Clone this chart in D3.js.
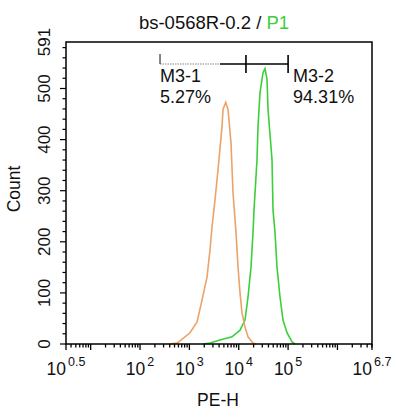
<!DOCTYPE html>
<html>
<head>
<meta charset="utf-8">
<script src="https://cdn.jsdelivr.net/npm/d3@7"></script>
<style>
  html, body { margin: 0; padding: 0; background: #fff; }
  svg { display: block; font-family: "Liberation Sans", Arial, sans-serif; }
</style>
</head>
<body>
<svg id="chart" width="400" height="419"></svg>
<script>
// ---- data ----
const controlPE = [405, 561, 646, 1030, 1429, 1803, 2275, 2618, 2871, 3304, 3802, 4581, 4797, 5445, 6067, 6966, 7656, 8810, 9661, 10617, 11641, 13397, 15417, 19454, 22387];
const controlCount = [0, 2, 6, 22, 43, 86, 131, 184, 229, 282, 341, 425, 459, 473, 459, 394, 296, 218, 151, 100, 61, 33, 14, 2, 0];
const samplePE = [1888, 2618, 4169, 7311, 10617, 13397, 15417, 17742, 19454, 20417, 23442, 24547, 26977, 31046, 34041, 37411, 39174, 47206, 49431, 54325, 59566, 68549, 78886, 95060, 120226, 138038];
const sampleCount = [0, 2, 8, 14, 27, 47, 92, 151, 218, 263, 361, 425, 492, 531, 539, 518, 459, 361, 263, 218, 151, 92, 47, 22, 4, 0];
const yTicks = [0, 100, 200, 300, 400, 500, 591];
const xTickExponents = ["0.5", "2", "3", "4", "5", "6.7"];
const gateNames = ["M3-1", "M3-2"];
const gateFrom = [254, 14000];
const gateTo = [14000, 100000];
const gatePct = ["5.27%", "94.31%"];
const gateDottedTo = 4170;
const titleMain = "bs-0568R-0.2 / ";
const titleGate = "P1";
const xLabel = "PE-H";
const yLabel = "Count";

// ---- layout ----
const L = 66, R = 372, T = 42, B = 344;
const svg = d3.select("#chart");
const x = d3.scaleLog().domain([Math.pow(10, 0.5), Math.pow(10, 6.7)]).range([L, R]);
const y = d3.scaleLinear().domain([0, 591]).range([B, T]);
const ORANGE = "#eba36a", GREEN = "#3ccf3c";

// title
const title = svg.append("text").attr("x", 214).attr("y", 29)
  .attr("text-anchor", "middle").attr("font-size", 18.5).attr("fill", "#111");
title.append("tspan").text(titleMain);
title.append("tspan").attr("fill", GREEN).text(titleGate);

// curves
const line = d3.line().x(d => x(d[0])).y(d => y(d[1]));
svg.append("path").datum(samplePE.map((v, i) => [v, sampleCount[i]]))
  .attr("d", line).attr("fill", "none").attr("stroke", GREEN).attr("stroke-width", 1.6);
svg.append("path").datum(controlPE.map((v, i) => [v, controlCount[i]]))
  .attr("d", line).attr("fill", "none").attr("stroke", ORANGE).attr("stroke-width", 1.6);

// frame
svg.append("rect").attr("x", L).attr("y", T).attr("width", R - L).attr("height", B - T)
  .attr("fill", "none").attr("stroke", "#000").attr("stroke-width", 1.5);

// x ticks (major decades + minor)
const xMinor = [];
for (let e = 0; e <= 6; e++) for (let m = 1; m <= 9; m++) {
  const v = m * Math.pow(10, e);
  if (v >= x.domain()[0] * 0.999 && v <= x.domain()[1] * 1.001) xMinor.push({v, major: m === 1});
}
svg.append("g").selectAll("line").data(xMinor).join("line")
  .attr("x1", d => x(d.v)).attr("x2", d => x(d.v))
  .attr("y1", B).attr("y2", d => B + (d.major ? 6 : 3.5))
  .attr("stroke", "#000").attr("stroke-width", 1.3);
svg.append("g").selectAll("line").data([x.domain()[0], x.domain()[1]]).join("line")
  .attr("x1", d => x(d)).attr("x2", d => x(d)).attr("y1", B).attr("y2", B + 6)
  .attr("stroke", "#000").attr("stroke-width", 1.3);

// x tick labels
const xl = svg.append("g").selectAll("text").data(xTickExponents).join("text")
  .attr("x", d => x(Math.pow(10, +d))).attr("y", 375)
  .attr("text-anchor", "middle").attr("font-size", 17.5).attr("fill", "#111");
xl.append("tspan").text("10");
xl.append("tspan").attr("dx", 2).attr("dy", -9).attr("font-size", 12.5).text(d => d);

// y ticks
const yMinor = d3.range(0, 591, 20);
svg.append("g").selectAll("line").data(yMinor).join("line")
  .attr("x1", L).attr("x2", d => L - (d % 100 === 0 ? 6 : 3.5))
  .attr("y1", d => y(d)).attr("y2", d => y(d))
  .attr("stroke", "#000").attr("stroke-width", 1.2);
svg.append("g").selectAll("text").data(yTicks).join("text")
  .attr("transform", d => `translate(50,${y(d)}) rotate(-90)`)
  .attr("text-anchor", "middle").attr("font-size", 17).attr("fill", "#111")
  .text(d => d);

// axis titles
svg.append("text").attr("x", 218).attr("y", 406).attr("text-anchor", "middle")
  .attr("font-size", 17.5).attr("fill", "#111").text(xLabel);
svg.append("text").attr("transform", "translate(20,189) rotate(-90)")
  .attr("text-anchor", "middle").attr("font-size", 17.5).attr("fill", "#111").text(yLabel);

// gates
const GY = 64;
svg.append("line").attr("x1", x(gateFrom[0])).attr("x2", x(gateDottedTo)).attr("y1", GY).attr("y2", GY)
  .attr("stroke", "#888").attr("stroke-width", 1.2).attr("stroke-dasharray", "1.5,1");
svg.append("line").attr("x1", x(gateDottedTo)).attr("x2", x(gateTo[1])).attr("y1", GY).attr("y2", GY)
  .attr("stroke", "#000").attr("stroke-width", 1.6);
svg.append("line").attr("x1", x(gateFrom[0])).attr("x2", x(gateFrom[0])).attr("y1", 54).attr("y2", GY)
  .attr("stroke", "#333").attr("stroke-width", 1.2);
svg.append("g").selectAll("line").data([gateTo[0], gateTo[1]]).join("line")
  .attr("x1", d => x(d)).attr("x2", d => x(d)).attr("y1", 55).attr("y2", 73)
  .attr("stroke", "#000").attr("stroke-width", 1.6);

const gateLabelX = [x(gateFrom[0]), x(gateTo[1]) + 5];
gateNames.forEach((n, i) => {
  svg.append("text").attr("x", gateLabelX[i]).attr("y", 82).attr("font-size", 18).attr("fill", "#111").text(n);
  svg.append("text").attr("x", gateLabelX[i]).attr("y", 103).attr("font-size", 18).attr("fill", "#111").text(gatePct[i]);
});
</script>
</body>
</html>
